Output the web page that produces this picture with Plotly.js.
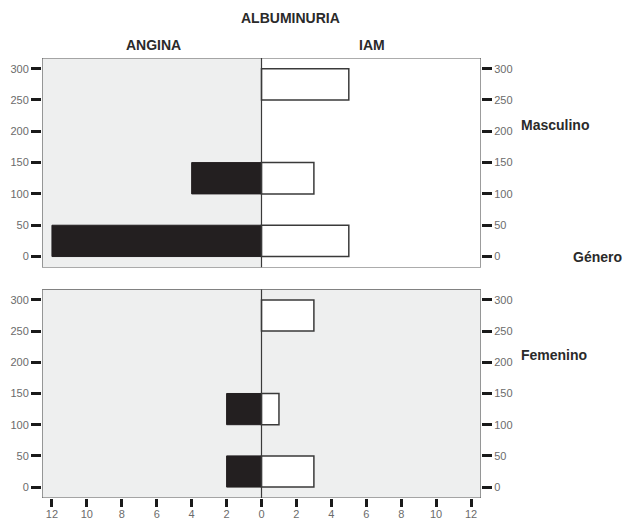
<!DOCTYPE html>
<html>
<head>
<meta charset="utf-8">
<script src="https://cdn.plot.ly/plotly-3.0.1.min.js"></script>
<style>body{margin:0;background:#fff}#chart{width:631px;height:521px}</style>
</head>
<body>
<div id="chart"></div>
<script>
// Bins of albuminuria (centres of 50-unit bins)
const binCenters = [25, 125, 275];
// Counts per bin
const anginaMasc = [12, 4, 0];
const iamMasc = [5, 3, 5];
const anginaFem = [2, 2, 0];
const iamFem = [3, 1, 3];
const xTickVals = [-12,-10,-8,-6,-4,-2,0,2,4,6,8,10,12];
const xTickText = ['12','10','8','6','4','2','0','2','4','6','8','10','12'];
const yTickVals = [0,50,100,150,200,250,300];

const XR = [-12.57, 12.57];
const YR = [-17.5, 317];

function neg(a){return a.map(v=>-v);}

const blackBar = {color:'#231f20', line:{color:'#231f20', width:1}};
const whiteBar = {color:'#ffffff', line:{color:'#3a3a3a', width:1.5}};

const traces = [
  {type:'bar', orientation:'h', x:neg(anginaMasc), y:binCenters, width:50, marker:blackBar, xaxis:'x', yaxis:'y', hoverinfo:'none'},
  {type:'bar', orientation:'h', x:iamMasc, y:binCenters, width:50, marker:whiteBar, xaxis:'x', yaxis:'y', hoverinfo:'none'},
  {type:'bar', orientation:'h', x:neg(anginaFem), y:binCenters, width:50, marker:blackBar, xaxis:'x', yaxis:'y2', hoverinfo:'none'},
  {type:'bar', orientation:'h', x:iamFem, y:binCenters, width:50, marker:whiteBar, xaxis:'x', yaxis:'y2', hoverinfo:'none'},
  // invisible traces to activate right-side axes
  {type:'scatter', x:[0], y:[0], xaxis:'x', yaxis:'y3', mode:'markers', marker:{opacity:0}, hoverinfo:'none'},
  {type:'scatter', x:[0], y:[0], xaxis:'x', yaxis:'y4', mode:'markers', marker:{opacity:0}, hoverinfo:'none'}
];

const tickFont = {family:'Liberation Sans, Arial, sans-serif', size:11, color:'#6b6b6b'};
const yCommon = {range:YR, tickvals:yTickVals, ticks:'outside', ticklen:10, tickwidth:3, tickcolor:'#1a1a1a',
  showgrid:false, zeroline:false, showline:false, tickfont:tickFont, fixedrange:true};

const topDom = [(498-267.5)/440, 1];
const botDom = [0, (498-289.3)/440];

const layout = {
  width:631, height:521,
  margin:{l:42, r:150, t:58, b:23},
  paper_bgcolor:'#ffffff', plot_bgcolor:'rgba(0,0,0,0)',
  showlegend:false, barmode:'overlay',
  font:{family:'Liberation Sans, Arial, sans-serif'},
  xaxis:{range:XR, anchor:'y2', tickvals:xTickVals, ticktext:xTickText, ticks:'outside', ticklen:8, tickwidth:3,
    tickcolor:'#1a1a1a', showgrid:false, zeroline:false, showline:false, tickfont:tickFont, fixedrange:true,
    ticklabelstandoff:-2},
  yaxis:Object.assign({}, yCommon, {domain:topDom, anchor:'x', side:'left'}),
  yaxis2:Object.assign({}, yCommon, {domain:botDom, anchor:'x', side:'left'}),
  yaxis3:Object.assign({}, yCommon, {domain:topDom, anchor:'x', side:'right', overlaying:'y'}),
  yaxis4:Object.assign({}, yCommon, {domain:botDom, anchor:'x', side:'right', overlaying:'y2'}),
  shapes:[
    // gray backgrounds
    {type:'rect', xref:'x', yref:'y', x0:XR[0], x1:0, y0:YR[0], y1:YR[1], fillcolor:'#eeefef', line:{width:0}, layer:'below'},
    {type:'rect', xref:'x', yref:'y2', x0:XR[0], x1:XR[1], y0:YR[0], y1:YR[1], fillcolor:'#eeefef', line:{width:0}, layer:'below'},
    // borders
    {type:'rect', xref:'x', yref:'y', x0:XR[0], x1:XR[1], y0:YR[0], y1:YR[1], line:{color:'#5a5a5a', width:1.2}, layer:'above'},
    {type:'rect', xref:'x', yref:'y2', x0:XR[0], x1:XR[1], y0:YR[0], y1:YR[1], line:{color:'#5a5a5a', width:1.2}, layer:'above'},
    // zero lines
    {type:'line', xref:'x', yref:'y', x0:0, x1:0, y0:YR[0], y1:YR[1], line:{color:'#3a3a3a', width:1.2}, layer:'above'},
    {type:'line', xref:'x', yref:'y2', x0:0, x1:0, y0:YR[0], y1:YR[1], line:{color:'#3a3a3a', width:1.2}, layer:'above'}
  ],
  annotations:[
    {text:'<b>ALBUMINURIA</b>', xref:'paper', yref:'paper', x:(290-42)/439, y:(498-18)/440, showarrow:false, xanchor:'center', yanchor:'middle', font:{size:14, color:'#2a2a2a'}},
    {text:'<b>ANGINA</b>', xref:'paper', yref:'paper', x:(153-42)/439, y:(498-45)/440, showarrow:false, xanchor:'center', yanchor:'middle', font:{size:14, color:'#2a2a2a'}},
    {text:'<b>IAM</b>', xref:'paper', yref:'paper', x:(372-42)/439, y:(498-45)/440, showarrow:false, xanchor:'center', yanchor:'middle', font:{size:14, color:'#2a2a2a'}},
    {text:'<b>Masculino</b>', xref:'paper', yref:'paper', x:(519-42)/439, y:(498-125)/440, showarrow:false, xanchor:'left', yanchor:'middle', font:{size:14, color:'#2a2a2a'}},
    {text:'<b>Género</b>', xref:'paper', yref:'paper', x:(571-42)/439, y:(498-257)/440, showarrow:false, xanchor:'left', yanchor:'middle', font:{size:14, color:'#2a2a2a'}},
    {text:'<b>Femenino</b>', xref:'paper', yref:'paper', x:(519-42)/439, y:(498-355)/440, showarrow:false, xanchor:'left', yanchor:'middle', font:{size:14, color:'#2a2a2a'}}
  ]
};

Plotly.newPlot('chart', traces, layout, {displayModeBar:false, staticPlot:true});
</script>
</body>
</html>
